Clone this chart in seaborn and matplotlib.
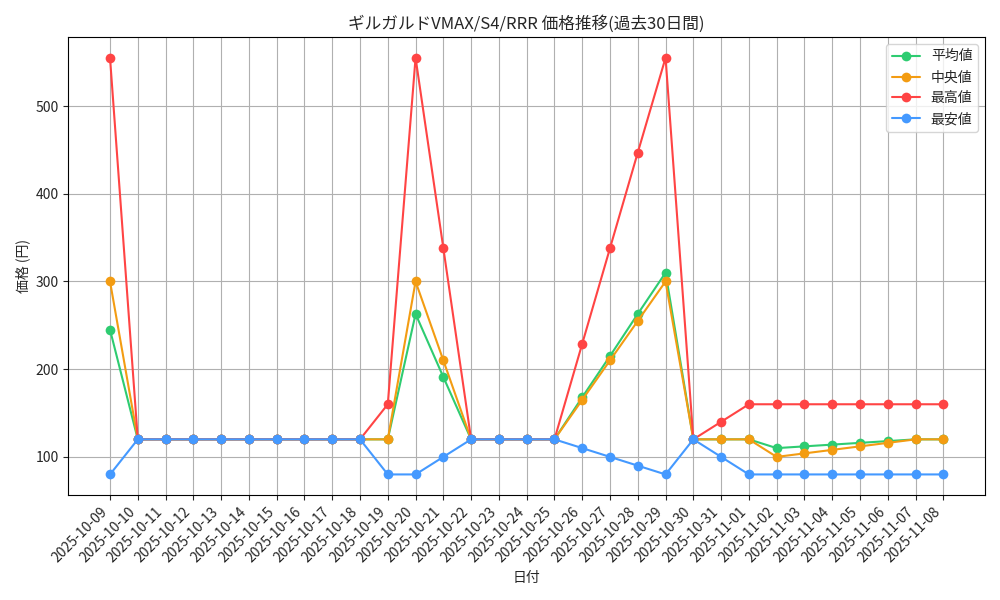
import matplotlib
matplotlib.use("Agg")
import matplotlib.pyplot as plt
import seaborn as sns
import pandas as pd

sns.set_style("whitegrid")
plt.rcParams['font.family'] = ['Noto Sans CJK JP', 'DejaVu Sans']

dates = pd.date_range("2025-10-09", "2025-11-08").strftime("%Y-%m-%d").tolist()
avg = [245,120,120,120,120,120,120,120,120,120,120,263,191,120,120,120,120,168,215,263,310,120,120,120,110,112,114,116,118,120,120]
med = [300,120,120,120,120,120,120,120,120,120,120,300,210,120,120,120,120,165,210,255,300,120,120,120,100,104,108,112,116,120,120]
mx  = [555,120,120,120,120,120,120,120,120,120,160,555,338,120,120,120,120,229,338,447,555,120,140,160,160,160,160,160,160,160,160]
mn  = [80,120,120,120,120,120,120,120,120,120,80,80,100,120,120,120,120,110,100,90,80,120,100,80,80,80,80,80,80,80,80]
# note: lists above have 31 entries matching dates
avg = avg[:11] + avg[11:] if len(avg)==31 else avg

fig, ax = plt.subplots(figsize=(10, 6), dpi=100)
x = list(range(len(dates)))
series = [("平均値", avg, "#2ecc71"), ("中央値", med, "#f39c12"), ("最高値", mx, "#ff4444"), ("最安値", mn, "#4499ff")]
for name, vals, c in series:
    sns.lineplot(x=x, y=vals[:len(x)], ax=ax, color=c, marker="o", markersize=7, markeredgewidth=0, label=name, linewidth=1.5)
ax.set_xticks(x)
ax.set_xticklabels(dates, rotation=45, ha="right")
ax.set_yticks([100,200,300,400,500])
ax.grid(True, color="#b0b0b0", linewidth=0.8)
for s in ax.spines.values():
    s.set_color("black"); s.set_linewidth(0.8)
ax.tick_params(axis='both', length=3.5, left=True, bottom=True)
ax.set_title("ギルガルドVMAX/S4/RRR 価格推移(過去30日間)")
ax.set_xlabel("日付")
ax.set_ylabel("価格 (円)")
ax.legend(loc="upper right")
fig.tight_layout()
fig.savefig("out.png")
